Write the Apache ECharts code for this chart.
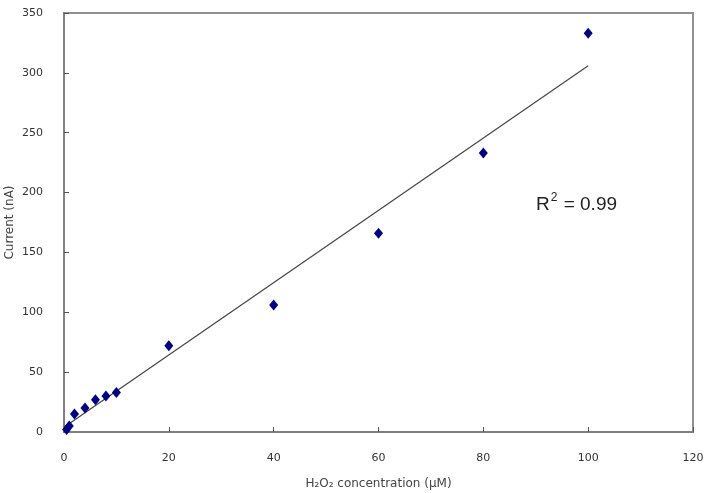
<!DOCTYPE html>
<html>
<head>
<meta charset="utf-8">
<script src="https://cdn.jsdelivr.net/npm/echarts@6/dist/echarts.min.js"></script>
<style>
  html, body { margin: 0; padding: 0; background: #fff; }
  #chart { width: 707px; height: 493px; }
</style>
</head>
<body>
<div id="chart"></div>
<script>
// measured points (H2O2 concentration uM, current nA)
const concentration = [0.5, 1, 2, 4, 6, 8, 10, 20, 40, 60, 80, 100];
const current = [2, 5, 15, 20, 27, 30, 33, 72, 106, 166, 233, 333];

// linear trendline endpoints
const trendX = [0, 100];
const trendY = [4, 306];

const chart = echarts.init(document.getElementById('chart'));

const axisFont = { fontFamily: 'DejaVu Sans', fontSize: 11, color: '#333' };

const option = {
  animation: false,
  grid: { left: 64, right: 14, top: 13, bottom: 61, containLabel: false, outerBoundsMode: 'none' },
  xAxis: {
    type: 'value',
    min: 0, max: 120, interval: 20,
    name: 'H\u2082O\u2082 concentration (\u03bcM)',
    nameLocation: 'middle',
    nameGap: 46,
    nameMoveOverlap: false,
    nameTextStyle: { fontFamily: 'DejaVu Sans', fontSize: 12, color: '#444' },
    axisLine: { show: true, lineStyle: { color: '#808080', width: 2 } },
    axisTick: { show: true, inside: true, length: 5, lineStyle: { color: '#555' } },
    axisLabel: Object.assign({ margin: 21 }, axisFont),
    splitLine: { show: false }
  },
  yAxis: {
    type: 'value',
    min: 0, max: 350, interval: 50,
    name: 'Current (nA)',
    nameLocation: 'middle',
    nameGap: 48,
    nameMoveOverlap: false,
    nameTextStyle: { fontFamily: 'DejaVu Sans', fontSize: 12, color: '#444' },
    axisLine: { show: true, lineStyle: { color: '#808080', width: 2 } },
    axisTick: { show: true, inside: true, length: 5, lineStyle: { color: '#555' } },
    axisLabel: Object.assign({ margin: 21 }, axisFont),
    splitLine: { show: false }
  },
  graphic: [
    {
      // plot frame on the top and right sides
      type: 'rect',
      shape: { x: 64, y: 13, width: 629, height: 419 },
      style: { fill: 'none', stroke: '#909090', lineWidth: 2 },
      silent: true
    },
    {
      type: 'text',
      left: 536,
      top: 192,
      style: {
        text: '{a|R}{s|2}{a| = 0.99}',
        rich: {
          a: { fontFamily: 'Liberation Sans', fontSize: 19, fill: '#222', verticalAlign: 'bottom' },
          s: { fontFamily: 'Liberation Sans', fontSize: 12, fill: '#222', verticalAlign: 'top', padding: [0, 1, 10, 1] }
        }
      }
    }
  ],
  series: [
    {
      type: 'line',
      data: trendX.map((x, i) => [x, trendY[i]]),
      showSymbol: false,
      lineStyle: { color: '#444', width: 1.2 },
      z: 2
    },
    {
      type: 'scatter',
      data: concentration.map((x, i) => [x, current[i]]),
      symbol: 'diamond',
      symbolSize: [9, 11],
      itemStyle: { color: '#000080', opacity: 1 },
      z: 3
    }
  ]
};

chart.setOption(option);
</script>
</body>
</html>
